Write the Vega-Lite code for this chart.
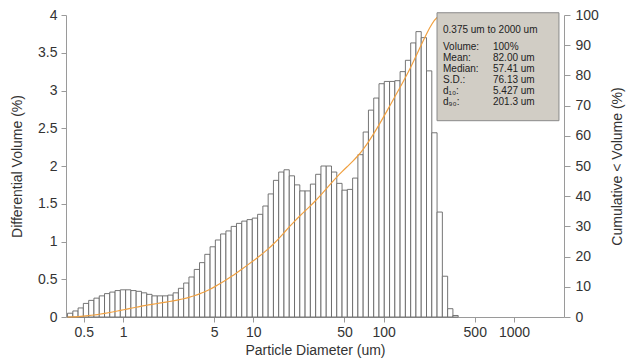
{
  "$schema": "https://vega.github.io/schema/vega-lite/v6.json",
  "width": 498,
  "height": 302,
  "autosize": {"type": "none"},
  "padding": {"left": 66, "top": 15, "right": 66, "bottom": 45},
  "background": "white",
  "config": {
    "font": "Liberation Sans",
    "view": {"stroke": null},
    "axis": {
      "domainColor": "#9a9a9a",
      "tickColor": "#9a9a9a",
      "labelColor": "#333333",
      "titleColor": "#333333",
      "labelFontSize": 14,
      "titleFontSize": 14,
      "titleFontWeight": "normal",
      "grid": false,
      "tickSize": 5
    }
  },
  "datasets": {
    "bins": [
      {"lo": 0.375, "hi": 0.412, "v": 0.05},
      {"lo": 0.412, "hi": 0.452, "v": 0.08},
      {"lo": 0.452, "hi": 0.496, "v": 0.12},
      {"lo": 0.496, "hi": 0.545, "v": 0.18},
      {"lo": 0.545, "hi": 0.598, "v": 0.22},
      {"lo": 0.598, "hi": 0.657, "v": 0.25},
      {"lo": 0.657, "hi": 0.721, "v": 0.28},
      {"lo": 0.721, "hi": 0.791, "v": 0.31},
      {"lo": 0.791, "hi": 0.869, "v": 0.33},
      {"lo": 0.869, "hi": 0.953, "v": 0.35},
      {"lo": 0.953, "hi": 1.047, "v": 0.36},
      {"lo": 1.047, "hi": 1.149, "v": 0.36},
      {"lo": 1.149, "hi": 1.261, "v": 0.35},
      {"lo": 1.261, "hi": 1.385, "v": 0.34},
      {"lo": 1.385, "hi": 1.52, "v": 0.32},
      {"lo": 1.52, "hi": 1.669, "v": 0.3},
      {"lo": 1.669, "hi": 1.832, "v": 0.28},
      {"lo": 1.832, "hi": 2.01, "v": 0.28},
      {"lo": 2.01, "hi": 2.207, "v": 0.28},
      {"lo": 2.207, "hi": 2.423, "v": 0.29},
      {"lo": 2.423, "hi": 2.66, "v": 0.32},
      {"lo": 2.66, "hi": 2.92, "v": 0.38},
      {"lo": 2.92, "hi": 3.205, "v": 0.45},
      {"lo": 3.205, "hi": 3.519, "v": 0.53},
      {"lo": 3.519, "hi": 3.863, "v": 0.63},
      {"lo": 3.863, "hi": 4.24, "v": 0.72},
      {"lo": 4.24, "hi": 4.655, "v": 0.83},
      {"lo": 4.655, "hi": 5.11, "v": 0.93},
      {"lo": 5.11, "hi": 5.61, "v": 1.02},
      {"lo": 5.61, "hi": 6.158, "v": 1.1},
      {"lo": 6.158, "hi": 6.76, "v": 1.14},
      {"lo": 6.76, "hi": 7.421, "v": 1.2},
      {"lo": 7.421, "hi": 8.147, "v": 1.24},
      {"lo": 8.147, "hi": 8.943, "v": 1.27},
      {"lo": 8.943, "hi": 9.817, "v": 1.29},
      {"lo": 9.817, "hi": 10.78, "v": 1.31},
      {"lo": 10.78, "hi": 11.83, "v": 1.36},
      {"lo": 11.83, "hi": 12.99, "v": 1.47},
      {"lo": 12.99, "hi": 14.26, "v": 1.63},
      {"lo": 14.26, "hi": 15.65, "v": 1.81},
      {"lo": 15.65, "hi": 17.18, "v": 1.92},
      {"lo": 17.18, "hi": 18.86, "v": 1.95},
      {"lo": 18.86, "hi": 20.7, "v": 1.87},
      {"lo": 20.7, "hi": 22.73, "v": 1.75},
      {"lo": 22.73, "hi": 24.95, "v": 1.67},
      {"lo": 24.95, "hi": 27.39, "v": 1.67},
      {"lo": 27.39, "hi": 30.07, "v": 1.76},
      {"lo": 30.07, "hi": 33.01, "v": 1.89},
      {"lo": 33.01, "hi": 36.24, "v": 2.0},
      {"lo": 36.24, "hi": 39.78, "v": 2.0},
      {"lo": 39.78, "hi": 43.67, "v": 1.92},
      {"lo": 43.67, "hi": 47.94, "v": 1.77},
      {"lo": 47.94, "hi": 52.62, "v": 1.68},
      {"lo": 52.62, "hi": 57.77, "v": 1.69},
      {"lo": 57.77, "hi": 63.41, "v": 1.84},
      {"lo": 63.41, "hi": 69.61, "v": 2.15},
      {"lo": 69.61, "hi": 76.42, "v": 2.45},
      {"lo": 76.42, "hi": 83.89, "v": 2.74},
      {"lo": 83.89, "hi": 92.09, "v": 2.9},
      {"lo": 92.09, "hi": 101.1, "v": 3.09},
      {"lo": 101.1, "hi": 111.0, "v": 3.12},
      {"lo": 111.0, "hi": 121.8, "v": 3.12},
      {"lo": 121.8, "hi": 133.7, "v": 3.13},
      {"lo": 133.7, "hi": 146.8, "v": 3.25},
      {"lo": 146.8, "hi": 161.2, "v": 3.4},
      {"lo": 161.2, "hi": 176.9, "v": 3.63},
      {"lo": 176.9, "hi": 194.2, "v": 3.78},
      {"lo": 194.2, "hi": 213.2, "v": 3.7},
      {"lo": 213.2, "hi": 234.1, "v": 3.26},
      {"lo": 234.1, "hi": 256.9, "v": 2.44},
      {"lo": 256.9, "hi": 282.1, "v": 1.39},
      {"lo": 282.1, "hi": 309.6, "v": 0.54},
      {"lo": 309.6, "hi": 339.9, "v": 0.11},
      {"lo": 339.9, "hi": 373.1, "v": 0.02}
    ],
    "cum": [
      {"d": 0.375, "c": 0}, {"d": 0.412, "c": 0.05}, {"d": 0.452, "c": 0.13}, {"d": 0.496, "c": 0.25},
      {"d": 0.545, "c": 0.43}, {"d": 0.598, "c": 0.65}, {"d": 0.657, "c": 0.9}, {"d": 0.721, "c": 1.18},
      {"d": 0.791, "c": 1.49}, {"d": 0.869, "c": 1.82}, {"d": 0.953, "c": 2.17}, {"d": 1.047, "c": 2.53},
      {"d": 1.149, "c": 2.89}, {"d": 1.261, "c": 3.24}, {"d": 1.385, "c": 3.58}, {"d": 1.52, "c": 3.9},
      {"d": 1.669, "c": 4.2}, {"d": 1.832, "c": 4.48}, {"d": 2.01, "c": 4.76}, {"d": 2.207, "c": 5.04},
      {"d": 2.423, "c": 5.33}, {"d": 2.66, "c": 5.65}, {"d": 2.92, "c": 6.03}, {"d": 3.205, "c": 6.48},
      {"d": 3.519, "c": 7.01}, {"d": 3.863, "c": 7.64}, {"d": 4.24, "c": 8.36}, {"d": 4.655, "c": 9.19},
      {"d": 5.11, "c": 10.12}, {"d": 5.61, "c": 11.14}, {"d": 6.158, "c": 12.24}, {"d": 6.76, "c": 13.38},
      {"d": 7.421, "c": 14.58}, {"d": 8.147, "c": 15.82}, {"d": 8.943, "c": 17.09}, {"d": 9.817, "c": 18.38},
      {"d": 10.78, "c": 19.69}, {"d": 11.83, "c": 21.05}, {"d": 12.99, "c": 22.52}, {"d": 14.26, "c": 24.15},
      {"d": 15.65, "c": 25.96}, {"d": 17.18, "c": 27.88}, {"d": 18.86, "c": 29.83}, {"d": 20.7, "c": 31.7},
      {"d": 22.73, "c": 33.45}, {"d": 24.95, "c": 35.12}, {"d": 27.39, "c": 36.79}, {"d": 30.07, "c": 38.55},
      {"d": 33.01, "c": 40.44}, {"d": 36.24, "c": 42.44}, {"d": 39.78, "c": 44.44}, {"d": 43.67, "c": 46.36},
      {"d": 47.94, "c": 48.13}, {"d": 52.62, "c": 49.81}, {"d": 57.77, "c": 51.5}, {"d": 63.41, "c": 53.34},
      {"d": 69.61, "c": 55.49}, {"d": 76.42, "c": 57.94}, {"d": 83.89, "c": 60.68}, {"d": 92.09, "c": 63.58},
      {"d": 101.1, "c": 66.67}, {"d": 111.0, "c": 69.79}, {"d": 121.8, "c": 72.91}, {"d": 133.7, "c": 76.04},
      {"d": 146.8, "c": 79.29}, {"d": 161.2, "c": 82.69}, {"d": 176.9, "c": 86.32}, {"d": 194.2, "c": 90.1},
      {"d": 213.2, "c": 93.8}, {"d": 234.1, "c": 97.06}, {"d": 256.9, "c": 99.5}, {"d": 282.1, "c": 100},
      {"d": 2000, "c": 100}
    ],
    "stats": [
      {
        "range": "0.375 um to 2000 um",
        "labels": ["Volume:", "Mean:", "Median:", "S.D.:", "d₁₀:", "d₉₀:"],
        "vals": ["100%", "82.00 um", "57.41 um", "76.13 um", "5.427 um", "201.3 um"]
      }
    ]
  },
  "layer": [
    {
      "data": {"name": "bins"},
      "mark": {"type": "rect", "fill": "white", "stroke": "#666666", "strokeWidth": 0.9},
      "encoding": {
        "x": {
          "field": "lo", "type": "quantitative",
          "scale": {"type": "log", "domain": [0.365, 2420], "nice": false},
          "axis": {
            "values": [0.5, 1, 5, 10, 50, 100, 500, 1000],
            "format": "~g",
            "title": "Particle Diameter (um)",
            "labelPadding": 3,
            "titlePadding": 4,
            "labelFlush": false,
            "labelOverlap": false
          }
        },
        "x2": {"field": "hi"},
        "y": {
          "field": "v", "type": "quantitative",
          "scale": {"domain": [0, 4], "nice": false},
          "axis": {
            "values": [0, 0.5, 1, 1.5, 2, 2.5, 3, 3.5, 4],
            "format": "~g",
            "title": "Differential Volume (%)",
            "labelPadding": 4,
            "titlePadding": 13
          }
        },
        "y2": {"datum": 0}
      }
    },
    {
      "data": {"name": "cum"},
      "mark": {"type": "line", "color": "#f0a040", "strokeWidth": 1.2, "interpolate": "basis"},
      "encoding": {
        "x": {"field": "d", "type": "quantitative", "scale": {"type": "log", "domain": [0.365, 2420], "nice": false}},
        "y": {
          "field": "c", "type": "quantitative",
          "scale": {"domain": [0, 100], "nice": false},
          "axis": {
            "orient": "right",
            "values": [0, 10, 20, 30, 40, 50, 60, 70, 80, 90, 100],
            "title": "Cumulative < Volume (%)",
            "titleAngle": -90,
            "tickSize": 6,
            "labelPadding": 5,
            "titlePadding": 26
          }
        }
      }
    },
    {
      "data": {"name": "stats"},
      "mark": {"type": "rect", "fill": "#d1cdc5", "stroke": "#8a8a8a", "strokeWidth": 1},
      "encoding": {
        "x": {"datum": 256.7, "type": "quantitative", "scale": {"type": "log", "domain": [0.365, 2420], "nice": false}},
        "x2": {"datum": 2214},
        "y": {"datum": 4.03, "type": "quantitative", "scale": {"domain": [0, 4], "nice": false}, "axis": null},
        "y2": {"datum": 2.6}
      }
    },
    {
      "data": {"name": "stats"},
      "mark": {"type": "text", "align": "left", "baseline": "alphabetic", "fontSize": 10, "color": "#222222"},
      "encoding": {
        "x": {"datum": 285.3, "type": "quantitative", "scale": {"type": "log", "domain": [0.365, 2420], "nice": false}},
        "y": {"datum": 3.76, "type": "quantitative", "scale": {"domain": [0, 4], "nice": false}, "axis": null},
        "text": {"field": "range", "type": "nominal"}
      }
    },
    {
      "data": {"name": "stats"},
      "mark": {"type": "text", "align": "left", "baseline": "alphabetic", "fontSize": 10, "lineHeight": 11, "color": "#222222"},
      "encoding": {
        "x": {"datum": 285.3, "type": "quantitative", "scale": {"type": "log", "domain": [0.365, 2420], "nice": false}},
        "y": {"datum": 3.542, "type": "quantitative", "scale": {"domain": [0, 4], "nice": false}, "axis": null},
        "text": {"field": "labels", "type": "nominal"}
      }
    },
    {
      "data": {"name": "stats"},
      "mark": {"type": "text", "align": "left", "baseline": "alphabetic", "fontSize": 10, "lineHeight": 11, "color": "#222222"},
      "encoding": {
        "x": {"datum": 690, "type": "quantitative", "scale": {"type": "log", "domain": [0.365, 2420], "nice": false}},
        "y": {"datum": 3.542, "type": "quantitative", "scale": {"domain": [0, 4], "nice": false}, "axis": null},
        "text": {"field": "vals", "type": "nominal"}
      }
    }
  ],
  "resolve": {"scale": {"y": "independent"}, "axis": {"y": "independent"}}
}
